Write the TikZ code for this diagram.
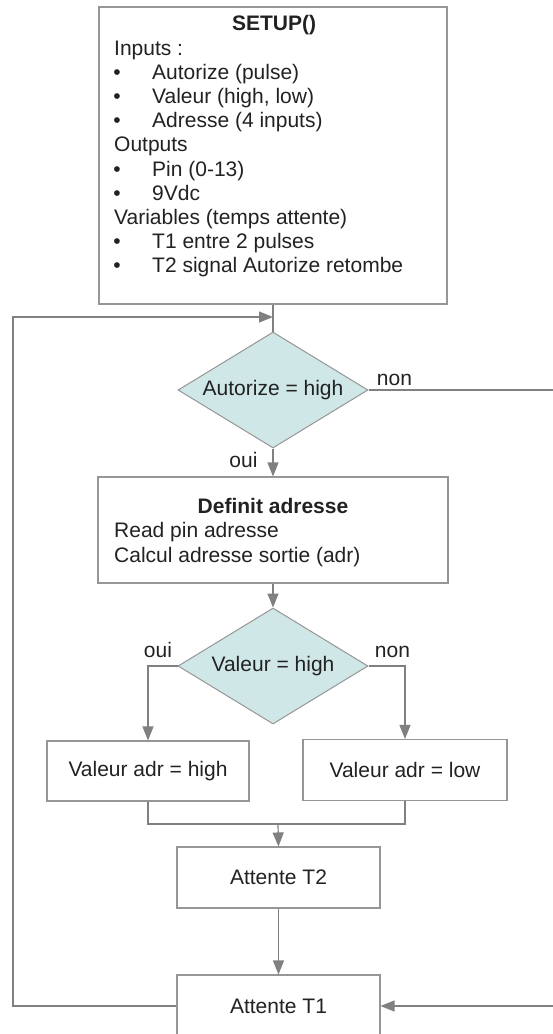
\documentclass[tikz,border=0pt]{standalone}
\usepackage{fontspec}
\setmainfont{Liberation Sans}
\usetikzlibrary{shapes.geometric,arrows.meta}
\definecolor{linec}{RGB}{128,128,128}
\definecolor{boxc}{RGB}{150,150,150}
\definecolor{dfill}{RGB}{208,231,231}
\definecolor{txt}{RGB}{34,34,34}
\begin{document}
\begin{tikzpicture}[x=1pt,y=-1pt,
  font=\fontsize{21}{24}\selectfont, text=txt,
  box/.style={draw=boxc, line width=1.1pt, fill=white, rectangle, inner sep=0},
  dec/.style={diamond, draw=boxc, fill=dfill, line width=1pt, minimum width=190pt, minimum height=116pt, inner sep=0},
  conn/.style={draw=linec, line width=1.2pt},
  arr/.style={conn, -{Triangle[length=14pt,width=11pt]}},
  txtl/.style={anchor=base west, inner sep=0},
  txtb/.style={anchor=base, inner sep=0},
  bul/.style={anchor=base, inner sep=0}]
\useasboundingbox (0,0) rectangle (553,1034);
\fill[white] (0,0) rectangle (553,1034);
\clip (0,0) rectangle (553,1034);

% nodes
\node[box, minimum width=348pt, minimum height=297pt] (setup) at (273,155.5) {};
\node[txtb] (st) at (274,30) {\bfseries SETUP()};
\node[txtl] (s1) at (114,55) {Inputs :};
\node[bul] (b1) at (117,79.2) {•};
\node[txtl] (s2) at (152,79.2) {Autorize (pulse)};
\node[bul] (b2) at (117,103.4) {•};
\node[txtl] (s3) at (152,103.4) {Valeur (high, low)};
\node[bul] (b3) at (117,127.6) {•};
\node[txtl] (s4) at (152,127.6) {Adresse (4 inputs)};
\node[txtl] (s5) at (114,151.8) {Outputs};
\node[bul] (b4) at (117,176) {•};
\node[txtl] (s6) at (152,176) {Pin (0-13)};
\node[bul] (b5) at (117,200.2) {•};
\node[txtl] (s7) at (152,200.2) {9Vdc};
\node[txtl] (s8) at (114,224.4) {Variables (temps attente)};
\node[bul] (b6) at (117,248.6) {•};
\node[txtl] (s9) at (152,248.6) {T1 entre 2 pulses};
\node[bul] (b7) at (117,272.8) {•};
\node[txtl] (s10) at (152,272.8) {T2 signal Autorize retombe};

\node[dec, label={center:Autorize = high}] (d1) at (273,390) {};
\node[box, minimum width=350pt, minimum height=106pt] (def) at (273,530) {};
\node[txtb] (dt) at (273,513) {\bfseries Definit adresse};
\node[txtl] (dl1) at (114,537) {Read pin adresse};
\node[txtl] (dl2) at (114,562) {Calcul adresse sortie (adr)};

\node[dec, label={center:Valeur = high}] (d2) at (273,666) {};
\node[box, minimum width=202pt, minimum height=60pt] (hi) at (148,771) {Valeur adr = high};
\node[box, minimum width=204pt, minimum height=61pt] (lo) at (405,770) {Valeur adr = low};
\node[box, minimum width=203pt, minimum height=61pt] (t2) at (278.5,877.5) {Attente T2};
\node[box, minimum width=203pt, minimum height=62pt] (t1) at (278.5,1006) {Attente T1};

% labels
\node[txtb] (n1) at (394.5,385) {non};
\node[txtb] (o1) at (243.5,467) {oui};
\node[txtb] (o2) at (158,657) {oui};
\node[txtb] (n2) at (392.5,657) {non};

% coordinates
\coordinate (j1) at (273,317);
\coordinate (L1) at (13,317);
\coordinate (L2) at (13,1006);
\coordinate (m) at (278,824);
\coordinate (R1) at (560,390);
\coordinate (R2) at (560,1006);

% connectors
\draw[conn] (setup.south) -- (d1.north);
\draw[arr] (t1.west) -- (L2) -- (L1) -- (j1);
\draw[arr] (d1.south) -- (def.north);
\draw[arr] (def.south) -- (d2.north);
\draw[arr] (d2.west) -| (hi.north);
\draw[arr] (d2.east) -| (lo.north);
\draw[conn] (hi.south) |- (m);
\draw[conn] (lo.south) |- (m);
\draw[arr] (m) -- (t2.north);
\draw[arr] (t2.south) -- (t1.north);
\draw[arr] (d1.east) -- (R1) -- (R2) -- (t1.east);
\end{tikzpicture}
\end{document}
